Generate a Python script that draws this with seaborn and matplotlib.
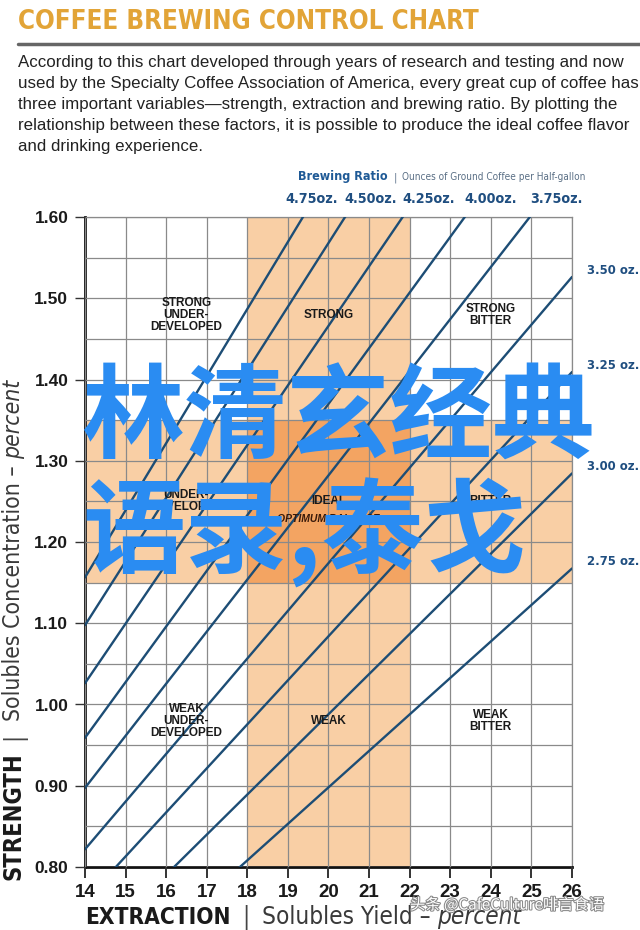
import matplotlib
matplotlib.use("Agg")
import matplotlib.pyplot as plt
import matplotlib.patheffects as pe
from matplotlib import font_manager
from matplotlib.transforms import IdentityTransform
import numpy as np
import pandas as pd
import seaborn as sns

# brewing ratio lines: oz of ground coffee per half-gallon, strength = slope * extraction
ratio_labels = ["4.75oz.", "4.50oz.", "4.25oz.", "4.00oz.", "3.75oz.",
                "3.50 oz.", "3.25 oz.", "3.00 oz.", "2.75 oz."]
ratio_slopes = [0.0826, 0.0784, 0.0733, 0.0685, 0.0641, 0.0587, 0.0542, 0.0494, 0.0449]

extraction_ticks = list(range(14, 27))
strength_ticks = [0.80, 0.90, 1.00, 1.10, 1.20, 1.30, 1.40, 1.50, 1.60]

ideal_extraction = (18, 22)
ideal_strength = (1.15, 1.35)

zone_cols = [16.5, 20.0, 24.0]
zone_rows = [1.48, 1.25, 0.98]
zone_names = [["STRONG\nUNDER-\nDEVELOPED", "STRONG", "STRONG\nBITTER"],
              ["UNDER-\nDEVELOPED", "IDEAL", "BITTER"],
              ["WEAK\nUNDER-\nDEVELOPED", "WEAK", "WEAK\nBITTER"]]

intro = ("According to this chart developed through years of research and testing and now\n"
         "used by the Specialty Coffee Association of America, every great cup of coffee has\n"
         "three important variables\u2014strength, extraction and brewing ratio. By plotting the\n"
         "relationship between these factors, it is possible to produce the ideal coffee flavor\n"
         "and drinking experience.")

sns.set_theme(style="white")
plt.rcParams["font.family"] = ["Liberation Sans", "DejaVu Sans"]

# a condensed face if the machine has one
fonts = font_manager.fontManager.ttflist
if any(f.name == "Liberation Sans Narrow" for f in fonts):
    NARROW = dict(family=["Liberation Sans Narrow", "DejaVu Sans"])
elif any(f.name == "DejaVu Sans" and f.stretch == "condensed" for f in fonts):
    NARROW = dict(family=["DejaVu Sans"], fontstretch="condensed")
else:
    NARROW = dict(family=["Liberation Sans", "DejaVu Sans"])

fig = plt.figure(figsize=(6.4, 9.3), dpi=100)
fig.patch.set_facecolor("white")
px = IdentityTransform()
H = 930
rend = fig.canvas.get_renderer()


def fit(t, width):
    # shrink/grow a text so it spans the width seen in the reference
    w = t.get_window_extent(rend).width
    t.set_fontsize(t.get_fontsize() * width / w)
    return t


ax = fig.add_axes([85 / 640, 63 / 930, 487 / 640, 650 / 930])
ax.set_xlim(14, 26)
ax.set_ylim(0.80, 1.60)

# optimum bands
band = "#f9cfa5"
ax.axvspan(*ideal_extraction, color=band, lw=0, zorder=0)
ax.axhspan(*ideal_strength, color=band, lw=0, zorder=0)
ax.fill_between(list(ideal_extraction), ideal_strength[0], ideal_strength[1],
                color="#f3a462", lw=0, zorder=0.5)

# grid
ax.set_xticks(extraction_ticks)
ax.set_yticks(strength_ticks)
ax.set_yticks(np.arange(0.85, 1.6, 0.1), minor=True)
ax.grid(True, which="both", color="#8a8a8a", lw=0.9, zorder=1)
ax.set_axisbelow(False)

# brewing ratio lines
xs = np.array([14.0, 26.0])
df = pd.DataFrame([{"ratio": lab, "extraction": x, "strength": k * x}
                   for lab, k in zip(ratio_labels, ratio_slopes) for x in xs])
sns.lineplot(data=df, x="extraction", y="strength", units="ratio", estimator=None,
             color="#1d4d75", lw=1.7, ax=ax, zorder=3)
ax.set_xlabel("")
ax.set_ylabel("")

for s in ["top", "right"]:
    ax.spines[s].set_color("#8a8a8a")
    ax.spines[s].set_linewidth(0.9)
for s in ["left", "bottom"]:
    ax.spines[s].set_color("#111111")
    ax.spines[s].set_linewidth(2.0)

ax.set_yticklabels([f"{v:.2f}" for v in strength_ticks], fontweight="bold", fontsize=12.5,
                   color="#1a1a1a")
ax.set_xticklabels([str(v) for v in extraction_ticks], fontweight="bold", fontsize=13.5,
                   color="#1a1a1a")
ax.tick_params(axis="y", which="major", direction="out", length=7, width=1, color="#333333",
               pad=5, left=True)
ax.tick_params(axis="y", which="minor", length=0)
ax.tick_params(axis="x", direction="out", length=8, width=1.4, color="#333333", pad=4,
               bottom=True)

# zone labels
for r, yv in enumerate(zone_rows):
    for c, xv in enumerate(zone_cols):
        ax.text(xv, yv, zone_names[r][c], ha="center", va="center", fontsize=8.5,
                fontweight="bold", color="#1a1a1a", linespacing=1.0, zorder=4)
ax.text(zone_cols[1], zone_rows[1] - 0.022, "OPTIMUM BALANCE", ha="center", va="center",
        fontsize=7.5, fontweight="bold", style="italic", color="#3a1a0a", zorder=4)

# ratio labels: top row starts where a line leaves the top edge,
# the rest sit beside the right edge where their line ends
blue = "#1f4e80"
to_data = ax.transData.inverted()
top_labels = []
for lab, k in zip(ratio_labels, ratio_slopes):
    x_top = 1.60 / k
    if x_top <= 26:
        t = ax.text(x_top, 1.622, lab, ha="left", va="center", fontsize=10.3,
                    fontweight="bold", color=blue, clip_on=False, **NARROW)
        top_labels.append(t)
    else:
        ax.text(26.37, k * 26 + 0.008, lab, ha="left", va="center", fontsize=9.4,
                fontweight="bold", color=blue, clip_on=False, **NARROW)
# push a label left if it would run into its neighbour
for left, right in zip(top_labels[-2::-1], top_labels[:0:-1]):
    bl = left.get_window_extent(rend)
    br = right.get_window_extent(rend)
    limit = br.x0 - 6
    if bl.x1 > limit:
        x_new = to_data.transform((limit - bl.width, 0))[0]
        left.set_x(x_new)


def chain(pieces, x, y, rotation=0):
    for s, gap, width, kw in pieces:
        t = fig.text(x, y, s, transform=px, rotation=rotation, rotation_mode="anchor",
                     ha="left", va="baseline", **kw)
        if width:
            bb = t.get_window_extent(rend)
            span = bb.height if rotation == 90 else bb.width
            t.set_fontsize(t.get_fontsize() * width / span)
        bb = t.get_window_extent(rend)
        if rotation == 90:
            y = bb.y1 + gap
        else:
            x = bb.x1 + gap


# header above chart
chain([("Brewing Ratio", 6, 90, dict(fontsize=10.5, fontweight="bold", color="#1f5a96", **NARROW)),
       ("|", 5, 0, dict(fontsize=8, color="#6a7f95", **NARROW)),
       ("Ounces of Ground Coffee per Half-gallon", 0, 180,
        dict(fontsize=7.5, color="#5a6f85", **NARROW))],
      298, H - 180)

# axis titles
chain([("EXTRACTION", 12, 145, dict(fontsize=19, fontweight="bold", color="#1a1a1a", **NARROW)),
       ("|", 12, 0, dict(fontsize=17, color="#444444", **NARROW)),
       ("Solubles Yield \u2013 ", 0, 0, dict(fontsize=17.5, color="#3a3a3a", **NARROW)),
       ("percent", 0, 0, dict(fontsize=17.5, style="italic", color="#3a3a3a", **NARROW))],
      85, H - 924)
chain([("STRENGTH", 12, 128, dict(fontsize=18, fontweight="bold", color="#1a1a1a", **NARROW)),
       ("|", 12, 0, dict(fontsize=17, color="#444444", **NARROW)),
       ("Solubles Concentration \u2013 ", 0, 0, dict(fontsize=16.5, color="#3a3a3a", **NARROW)),
       ("percent", 0, 0, dict(fontsize=16.5, style="italic", color="#3a3a3a", **NARROW))],
      20, H - 880, rotation=90)

# title block
title = fig.text(18, H - 22, "COFFEE BREWING CONTROL CHART", transform=px, ha="left",
                 va="center", fontsize=23, fontweight="bold", color="#e2a437", **NARROW)
fit(title, 462)
fig.add_artist(plt.Line2D([18, 640], [H - 44, H - 44], transform=px, color="#666666", lw=2.5))
para = fig.text(18, H - 55, intro, transform=px, ha="left", va="top", fontsize=11.6,
                color="#222222", linespacing=1.5)
fit(para, 618)

# overlay watermark
wm = ["Noto Sans CJK SC", "DejaVu Sans"]
fig.text(82, H - 420, "林清玄经典", transform=px, ha="left", va="center", fontsize=74,
         fontweight="bold", color="#2a8cf2", family=wm)
fig.text(82, H - 533, "语录,泰戈", transform=px, ha="left", va="center", fontsize=74,
         fontweight="bold", color="#2a8cf2", family=wm)
fig.text(410, H - 905, "头条 @CafeCulture啡言食语", transform=px, ha="left", va="center",
         fontsize=11, color="white", family=wm,
         path_effects=[pe.withStroke(linewidth=1.5, foreground="#8a8a8a")])

fig.savefig("out.png", dpi=100, facecolor="white")
